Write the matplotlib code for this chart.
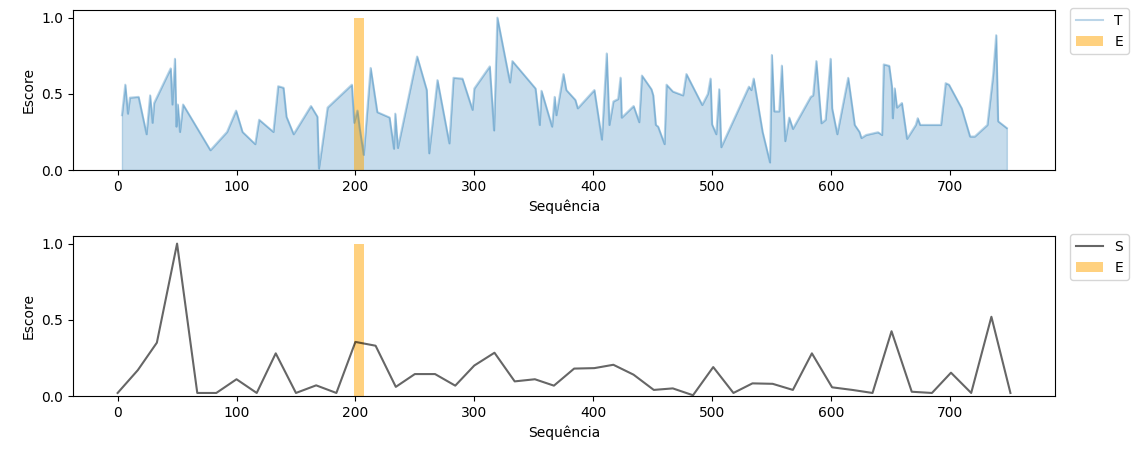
import matplotlib
matplotlib.use('Agg')
import matplotlib.pyplot as plt

# top series (T) - irregular positions
top_x = [3.6, 6.4, 8.6, 10.3, 17.6, 24.3, 27.3, 29.3, 30.7, 44.6,
         46, 48.2, 49.4, 50.6, 52.4, 55, 78, 92, 99.6, 105,
         115.7, 119, 131, 135, 139.5, 142, 148, 162.6, 168, 169.3,
         176.6, 197, 199, 201.7, 203.6, 207, 212.8, 218.4, 228.7, 232.4,
         233.5, 235.7, 251.9, 260, 262, 269, 279, 282.5, 290, 298.5,
         300, 313, 316.6, 319.4, 330, 332, 351.5, 355, 356.5, 365.4,
         367.6, 369, 375, 377.4, 385, 387, 401, 407.3, 411.4, 413.6,
         417, 421, 423, 424, 434, 438.7, 441, 449, 450.5, 452.7,
         454.6, 460, 461.7, 467, 475.6, 478.4, 491.7, 496.5, 498.7, 500,
         503.5, 506, 507.7, 531, 533, 535, 542.5, 548.7, 550.3, 552.3,
         556.5, 558.7, 561.5, 564.9, 568, 583, 585, 587.7, 592, 595.5,
         599.7, 601, 605.3, 614.5, 620, 624, 625.6, 629.6, 639.6, 643,
         644.4, 649, 651.3, 652, 653.6, 655.5, 659.7, 664, 671.4, 673,
         675, 692.6, 696.5, 699.3, 710, 717, 721, 731.6, 734.5, 736.4,
         739, 740.6, 748]
top_y = [0.36, 0.56, 0.37, 0.475, 0.48, 0.235, 0.49, 0.31, 0.44, 0.667,
         0.43, 0.73, 0.285, 0.43, 0.25, 0.43, 0.13, 0.25, 0.39, 0.25,
         0.17, 0.33, 0.25, 0.55, 0.54, 0.35, 0.235, 0.42, 0.35, 0.01,
         0.41, 0.56, 0.31, 0.39, 0.275, 0.1, 0.67, 0.38, 0.345, 0.14,
         0.37, 0.145, 0.745, 0.525, 0.11, 0.59, 0.175, 0.605, 0.6, 0.395,
         0.535, 0.68, 0.26, 1.0, 0.575, 0.715, 0.535, 0.296, 0.52, 0.285,
         0.48, 0.36, 0.63, 0.525, 0.46, 0.405, 0.525, 0.2, 0.765, 0.296,
         0.45, 0.466, 0.606, 0.344, 0.42, 0.314, 0.62, 0.53, 0.49, 0.296,
         0.285, 0.17, 0.56, 0.515, 0.49, 0.63, 0.427, 0.5, 0.6, 0.3,
         0.235, 0.53, 0.15, 0.547, 0.525, 0.6, 0.25, 0.05, 0.755, 0.385,
         0.385, 0.685, 0.19, 0.344, 0.27, 0.48, 0.49, 0.715, 0.307, 0.33,
         0.73, 0.405, 0.235, 0.605, 0.296, 0.25, 0.21, 0.23, 0.248, 0.23,
         0.693, 0.684, 0.547, 0.34, 0.536, 0.41, 0.44, 0.205, 0.296, 0.34,
         0.296, 0.296, 0.57, 0.56, 0.405, 0.22, 0.22, 0.296, 0.49, 0.62,
         0.885, 0.32, 0.275]
assert len(top_x) == len(top_y)

# bottom series (S) - regular windows
bot_x = [0, 17, 33, 50, 67, 83, 100, 117, 133, 150,
         167, 184, 200, 217, 234, 250, 267, 284, 300, 317,
         334, 351, 367, 384, 401, 417, 434, 451, 467, 484,
         501, 518, 534, 551, 568, 584, 601, 618, 635, 651,
         668, 685, 701, 718, 735, 751]
bot_y = [0.02, 0.17, 0.35, 1.0, 0.02, 0.02, 0.11, 0.02, 0.28, 0.02,
         0.07, 0.02, 0.355, 0.33, 0.06, 0.144, 0.144, 0.068, 0.2, 0.284,
         0.096, 0.11, 0.068, 0.18, 0.183, 0.205, 0.14, 0.04, 0.05, 0.005,
         0.19, 0.02, 0.083, 0.08, 0.04, 0.28, 0.057, 0.04, 0.02, 0.425,
         0.028, 0.02, 0.153, 0.02, 0.52, 0.02]
assert len(bot_x) == len(bot_y)

# highlighted region (E)
e_x = [203]
e_h = [1.0]
e_w = 8

fig = plt.figure(figsize=(11.45, 4.53), dpi=100)
ax1 = fig.add_axes([0.0638, 0.6247, 0.8576, 0.3532])
ax2 = fig.add_axes([0.0638, 0.1258, 0.8576, 0.3532])

ax1.plot(top_x, top_y, color='C0', alpha=0.3, lw=1.5, label='T')
ax1.fill_between(top_x, top_y, color='C0', alpha=0.25)
ax1.bar(e_x, e_h, width=e_w, color='orange', alpha=0.5, label='E')

ax2.plot(bot_x, bot_y, color='black', alpha=0.6, lw=1.5, label='S')
ax2.bar(e_x, e_h, width=e_w, color='orange', alpha=0.5, label='E')

for ax in (ax1, ax2):
    ax.set_xlim(-37.5, 788.5)
    ax.set_ylim(0, 1.05)
    ax.set_yticks([0.0, 0.5, 1.0])
    ax.set_xlabel('Sequência')
    ax.set_ylabel('Escore')
    ax.legend(loc='upper left', bbox_to_anchor=(1.0153, 1.0125), borderaxespad=0)

plt.savefig('out.png', dpi=100)
